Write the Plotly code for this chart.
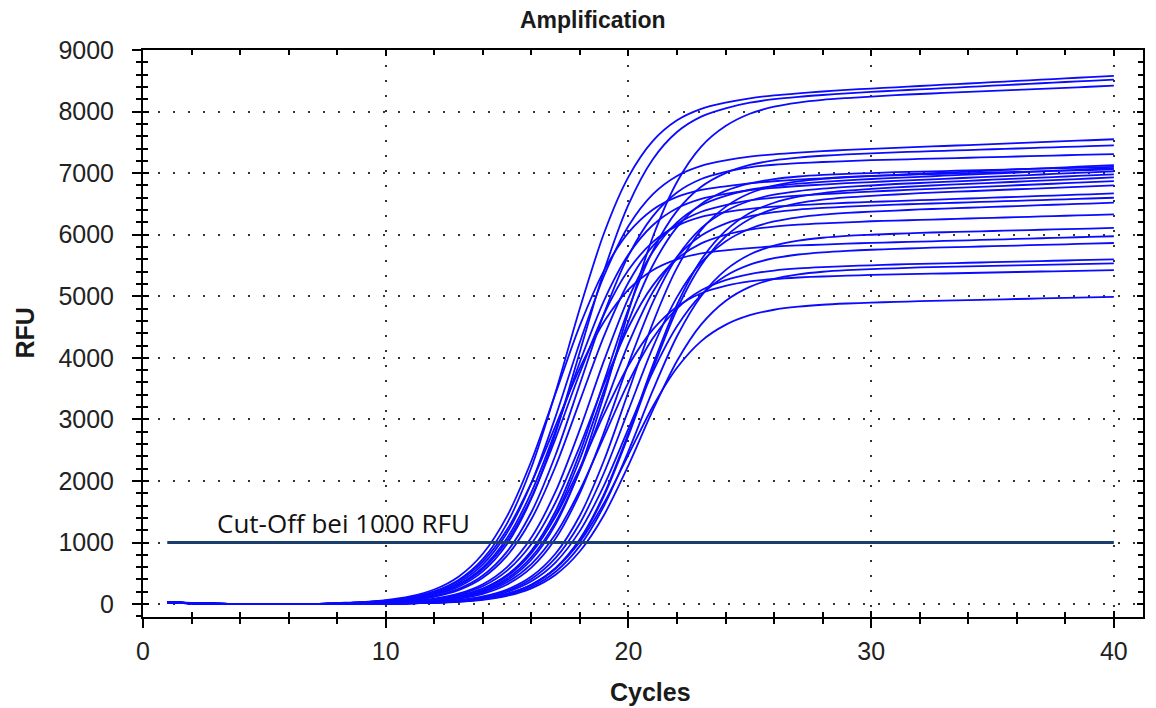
import plotly.graph_objects as go

# PCR cycle numbers
cycles = [1, 2, 3, 4, 5, 6, 7, 8, 9, 10, 11, 12, 13, 14, 15, 16, 17, 18, 19, 20,
          21, 22, 23, 24, 25, 26, 27, 28, 29, 30, 31, 32, 33, 34, 35, 36, 37, 38, 39, 40]

# Fluorescence (RFU) per well, one value per cycle
rfu_A01 = [30, 15, 5, 0, 0, 0, 0, 15, 29, 55, 106, 205, 391, 729, 1311, 2218, 3444, 4806, 6032, 6939,
           7521, 7859, 8045, 8144, 8216, 8263, 8297, 8326, 8353, 8374, 8394, 8415, 8436, 8456, 8477, 8498, 8518, 8539, 8559, 8580]
rfu_A02 = [25, 12, 4, 0, 0, 0, 0, 0, 21, 39, 76, 148, 282, 532, 977, 1711, 2781, 4100, 5419, 6489,
           7223, 7668, 7918, 8052, 8144, 8201, 8240, 8269, 8294, 8320, 8340, 8360, 8380, 8400, 8420, 8440, 8460, 8480, 8500, 8520]
rfu_A03 = [35, 18, 6, 0, 0, 0, 0, 0, 0, 15, 29, 55, 105, 203, 386, 720, 1295, 2192, 3402, 4748,
           5958, 6855, 7430, 7764, 7964, 8079, 8146, 8190, 8219, 8244, 8268, 8285, 8302, 8319, 8336, 8353, 8369, 8386, 8403, 8420]
rfu_A04 = [28, 14, 5, 0, 0, 0, 0, 13, 26, 49, 94, 182, 346, 645, 1160, 1963, 3047, 4253, 5337, 6140,
           6655, 6954, 7118, 7206, 7267, 7306, 7334, 7356, 7378, 7394, 7409, 7425, 7441, 7456, 7472, 7488, 7503, 7519, 7534, 7550]
rfu_A05 = [32, 16, 5, 0, 0, 0, 0, 0, 0, 18, 35, 67, 131, 249, 471, 864, 1512, 2459, 3625, 4791,
           5738, 6386, 6779, 7001, 7133, 7208, 7253, 7282, 7304, 7320, 7338, 7350, 7363, 7375, 7388, 7400, 7413, 7425, 7438, 7450]
rfu_A06 = [22, 11, 3, 0, 0, 0, 0, 0, 18, 34, 66, 129, 246, 464, 852, 1491, 2425, 3575, 4725, 5659,
           6298, 6686, 6904, 7021, 7094, 7136, 7162, 7181, 7195, 7210, 7220, 7230, 7240, 7250, 7260, 7270, 7280, 7290, 7300, 7310]
rfu_A07 = [30, 14, 4, 0, 0, 0, 0, 17, 33, 64, 123, 236, 445, 817, 1429, 2324, 3425, 4526, 5421, 6033,
           6405, 6614, 6727, 6786, 6835, 6868, 6894, 6915, 6938, 6955, 6973, 6990, 7008, 7025, 7043, 7060, 7078, 7095, 7113, 7130]
rfu_A08 = [26, 13, 4, 0, 0, 0, 0, 0, 12, 24, 46, 88, 169, 322, 601, 1081, 1829, 2838, 3962, 4971,
           5719, 6199, 6478, 6631, 6730, 6789, 6830, 6858, 6882, 6905, 6923, 6940, 6958, 6975, 6993, 7010, 7028, 7045, 7063, 7080]
rfu_A09 = [34, 17, 6, 0, 0, 0, 0, 12, 24, 45, 87, 168, 320, 597, 1073, 1815, 2817, 3933, 4935, 5677,
           6153, 6430, 6582, 6663, 6723, 6762, 6791, 6814, 6838, 6855, 6873, 6890, 6908, 6925, 6943, 6960, 6978, 6995, 7013, 7030]
rfu_A10 = [24, 12, 4, 0, 0, 0, 0, 0, 0, 12, 23, 45, 86, 167, 318, 592, 1065, 1802, 2797, 3903,
           4898, 5635, 6108, 6382, 6551, 6649, 6708, 6747, 6776, 6799, 6823, 6840, 6858, 6875, 6893, 6910, 6928, 6945, 6963, 6980]
rfu_A11 = [29, 15, 5, 0, 0, 0, 0, 0, 0, 0, 12, 23, 45, 86, 166, 315, 588, 1057, 1788, 2776,
           3874, 4862, 5593, 6062, 6353, 6519, 6617, 6675, 6715, 6743, 6767, 6790, 6808, 6825, 6843, 6860, 6878, 6895, 6913, 6930]
rfu_A12 = [27, 13, 4, 0, 0, 0, 0, 0, 17, 32, 61, 119, 227, 428, 787, 1377, 2239, 3300, 4361, 5223,
           5813, 6172, 6373, 6481, 6556, 6602, 6635, 6659, 6679, 6701, 6718, 6735, 6752, 6769, 6786, 6803, 6819, 6836, 6853, 6870]
rfu_B01 = [31, 16, 5, 0, 0, 0, 0, 0, 0, 0, 12, 23, 44, 84, 163, 310, 579, 1041, 1761, 2734,
           3816, 4789, 5509, 5971, 6256, 6418, 6513, 6569, 6606, 6632, 6653, 6675, 6691, 6706, 6722, 6738, 6753, 6769, 6784, 6800]
rfu_B02 = [23, 11, 3, 0, 0, 0, 0, 12, 23, 43, 83, 161, 306, 570, 1025, 1734, 2692, 3758, 4716, 5425,
           5880, 6144, 6289, 6367, 6421, 6456, 6479, 6499, 6519, 6533, 6546, 6560, 6574, 6588, 6601, 6615, 6629, 6643, 6656, 6670]
rfu_B03 = [28, 14, 4, 0, 0, 0, 0, 0, 0, 16, 31, 60, 115, 220, 415, 763, 1335, 2171, 3200, 4229,
           5065, 5637, 5985, 6180, 6298, 6365, 6407, 6434, 6455, 6471, 6488, 6500, 6513, 6525, 6538, 6550, 6563, 6575, 6588, 6600]
rfu_B04 = [33, 17, 5, 0, 0, 0, 0, 0, 0, 0, 16, 30, 59, 113, 217, 409, 751, 1314, 2137, 3150,
           4163, 4986, 5549, 5891, 6097, 6215, 6282, 6325, 6353, 6375, 6392, 6410, 6424, 6438, 6451, 6465, 6479, 6493, 6506, 6520]
rfu_B05 = [26, 13, 4, 0, 0, 0, 0, 0, 11, 22, 41, 79, 153, 292, 544, 977, 1654, 2567, 3583, 4496,
           5173, 5606, 5858, 5997, 6082, 6132, 6163, 6184, 6200, 6218, 6229, 6240, 6251, 6263, 6274, 6285, 6296, 6308, 6319, 6330]
rfu_B06 = [30, 15, 5, 0, 0, 0, 0, 0, 0, 0, 11, 21, 40, 77, 148, 282, 526, 945, 1600, 2484,
           3466, 4350, 5005, 5424, 5678, 5822, 5903, 5950, 5980, 5999, 6015, 6030, 6040, 6050, 6060, 6070, 6080, 6090, 6100, 6110]
rfu_B07 = [25, 12, 4, 0, 0, 0, 0, 15, 28, 54, 104, 200, 376, 691, 1210, 1967, 2900, 3833, 4590, 5109,
           5424, 5600, 5696, 5746, 5783, 5808, 5825, 5840, 5855, 5866, 5877, 5888, 5898, 5909, 5920, 5931, 5942, 5953, 5964, 5975]
rfu_B08 = [28, 14, 4, 0, 0, 0, 0, 0, 0, 0, 14, 27, 53, 103, 196, 370, 679, 1189, 1933, 2850,
           3767, 4511, 5021, 5330, 5514, 5618, 5678, 5714, 5738, 5755, 5768, 5783, 5793, 5803, 5813, 5824, 5834, 5844, 5855, 5865]
rfu_B09 = [32, 16, 5, 0, 0, 0, 0, 0, 0, 14, 26, 51, 98, 187, 354, 650, 1137, 1849, 2725, 3601,
           4313, 4800, 5096, 5263, 5361, 5418, 5452, 5474, 5490, 5502, 5516, 5525, 5534, 5544, 5553, 5563, 5572, 5581, 5591, 5600]
rfu_B10 = [27, 13, 4, 0, 0, 0, 0, 0, 0, 0, 10, 19, 36, 70, 134, 256, 477, 858, 1452, 2254,
           3146, 3948, 4542, 4923, 5152, 5283, 5355, 5398, 5424, 5441, 5454, 5468, 5476, 5484, 5493, 5501, 5510, 5518, 5527, 5535]
rfu_B11 = [24, 12, 4, 0, 0, 0, 0, 0, 10, 19, 36, 68, 132, 251, 469, 842, 1425, 2212, 3088, 3875,
           4458, 4831, 5049, 5168, 5240, 5280, 5305, 5321, 5334, 5347, 5355, 5363, 5370, 5378, 5386, 5394, 5402, 5409, 5417, 5425]
rfu_B12 = [30, 15, 5, 0, 0, 0, 0, 0, 0, 0, 12, 23, 45, 87, 167, 315, 578, 1012, 1645, 2425,
           3205, 3838, 4272, 4535, 4692, 4781, 4831, 4862, 4882, 4897, 4908, 4920, 4929, 4938, 4946, 4955, 4964, 4973, 4981, 4990]
rfu_C01 = [29, 14, 4, 0, 0, 0, 0, 0, 0, 17, 33, 65, 125, 239, 451, 828, 1450, 2357, 3475, 4593,
           5500, 6122, 6499, 6711, 6834, 6904, 6945, 6971, 6988, 7001, 7016, 7025, 7034, 7044, 7053, 7063, 7072, 7081, 7091, 7100]
rfu_C02 = [26, 13, 4, 0, 0, 0, 0, 0, 0, 0, 17, 33, 64, 124, 237, 448, 822, 1439, 2340, 3450,
           4560, 5461, 6078, 6452, 6673, 6796, 6866, 6907, 6933, 6951, 6965, 6980, 6990, 7000, 7010, 7020, 7030, 7040, 7050, 7060]

wells = [
    ("A01", rfu_A01), ("A02", rfu_A02), ("A03", rfu_A03), ("A04", rfu_A04),
    ("A05", rfu_A05), ("A06", rfu_A06), ("A07", rfu_A07), ("A08", rfu_A08),
    ("A09", rfu_A09), ("A10", rfu_A10), ("A11", rfu_A11), ("A12", rfu_A12),
    ("B01", rfu_B01), ("B02", rfu_B02), ("B03", rfu_B03), ("B04", rfu_B04),
    ("B05", rfu_B05), ("B06", rfu_B06), ("B07", rfu_B07), ("B08", rfu_B08),
    ("B09", rfu_B09), ("B10", rfu_B10), ("B11", rfu_B11), ("B12", rfu_B12),
    ("C01", rfu_C01), ("C02", rfu_C02),
]

# Threshold line
cutoff_rfu = 1000
cutoff_cycles = [1, 40]
cutoff_label = f"Cut-Off bei {cutoff_rfu} RFU"

X_RANGE = [0, 41.2]
Y_RANGE = [-210, 9000]

fig = go.Figure()

for name, values in wells:
    fig.add_trace(go.Scatter(
        x=cycles, y=values, mode="lines", name=name,
        line=dict(color="rgb(10,10,255)", width=1.8, shape="spline", smoothing=0.8),
        showlegend=False,
    ))

fig.add_trace(go.Scatter(
    x=cutoff_cycles, y=[cutoff_rfu, cutoff_rfu], mode="lines", name="Cut-Off",
    line=dict(color="#1b3e6c", width=3.2), showlegend=False,
))

# empty trace so the inner-tick overlay axes get drawn
fig.add_trace(go.Scatter(x=[None], y=[None], xaxis="x2", yaxis="y2",
                         showlegend=False, hoverinfo="skip"))

tick_font = dict(family="Liberation Sans, Arial, sans-serif", size=25, color="#222222")
title_font = dict(family="Liberation Sans, Arial, sans-serif", size=25, color="#1a1a1a")
grid = dict(showgrid=True, gridcolor="#333333", gridwidth=2, griddash="2px,13px")

fig.update_layout(
    width=1156, height=708,
    margin=dict(l=143, r=13, t=50, b=91),
    paper_bgcolor="white", plot_bgcolor="white",
    showlegend=False,
    xaxis=dict(
        range=X_RANGE, tickmode="linear", tick0=0, dtick=10,
        ticks="outside", ticklen=9, tickwidth=2, tickcolor="black",
        minor=dict(tick0=0, dtick=2, ticks="outside", ticklen=5, tickwidth=1.5,
                   tickcolor="black", showgrid=False),
        showline=True, linecolor="black", linewidth=2, mirror=True,
        zeroline=False, tickfont=tick_font, ticklabelstandoff=2, **grid,
    ),
    yaxis=dict(
        range=Y_RANGE, tickmode="linear", tick0=0, dtick=1000,
        ticks="outside", ticklen=9, tickwidth=2, tickcolor="black",
        minor=dict(tick0=0, dtick=200, ticks="outside", ticklen=5, tickwidth=1.5,
                   tickcolor="black", showgrid=False),
        showline=True, linecolor="black", linewidth=2, mirror=True,
        zeroline=False, tickfont=tick_font, ticklabelstandoff=13, **grid,
    ),
    xaxis2=dict(
        range=X_RANGE, overlaying="x", anchor="y2", side="bottom",
        tickmode="linear", tick0=0, dtick=10,
        ticks="inside", ticklen=6, tickwidth=2, tickcolor="black",
        minor=dict(tick0=0, dtick=2, ticks="inside", ticklen=5, tickwidth=1.5, tickcolor="black"),
        showline=True, linecolor="black", linewidth=2, mirror="allticks",
        showgrid=False, zeroline=False, showticklabels=False,
    ),
    yaxis2=dict(
        range=Y_RANGE, overlaying="y", anchor="x2", side="left",
        tickmode="linear", tick0=0, dtick=1000,
        ticks="inside", ticklen=6, tickwidth=2, tickcolor="black",
        minor=dict(tick0=0, dtick=200, ticks="inside", ticklen=5, tickwidth=1.5, tickcolor="black"),
        showline=True, linecolor="black", linewidth=2, mirror="allticks",
        showgrid=False, zeroline=False, showticklabels=False,
    ),
    annotations=[
        dict(text="<b>Amplification</b>", xref="paper", yref="paper", x=0.4495, y=1.053,
             xanchor="center", yanchor="middle", showarrow=False,
             font=dict(family="Liberation Sans, Arial, sans-serif", size=23, color="#1a1a1a")),
        dict(text="<b>RFU</b>", xref="paper", yref="paper", x=-0.119, y=0.5, textangle=-90,
             xanchor="center", yanchor="middle", showarrow=False, font=title_font),
        dict(text="<b>Cycles</b>", xref="paper", yref="paper", x=0.507, y=-0.132,
             xanchor="center", yanchor="middle", showarrow=False, font=title_font),
        dict(text=cutoff_label, xref="x", yref="y", x=2.95, y=1310,
             xanchor="left", yanchor="middle", showarrow=False,
             font=dict(family="Open Sans, sans-serif", size=26, color="#111111")),
    ],
)

fig.write_html("out.html")
